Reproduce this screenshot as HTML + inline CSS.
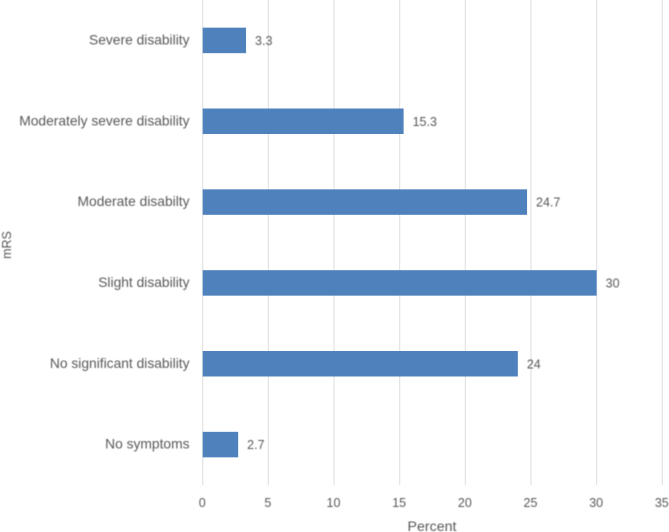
<!DOCTYPE html>
<html lang="en">
<head>
<meta charset="utf-8">
<title>mRS bar chart</title>
<style>
html,body{margin:0;padding:0;background:#fff;width:669px;height:532px;overflow:hidden}
svg{display:block}
text{font-family:"Liberation Sans",sans-serif;font-size:12.5px;fill:#595959}
text.cat{font-size:13.8px}
text.title{font-size:14.2px}
</style>
</head>
<body>
<svg id="chart" width="669" height="532" viewBox="0 0 669 532" xmlns="http://www.w3.org/2000/svg">
  <defs><filter id="soft" x="-5%" y="-20%" width="110%" height="140%"><feGaussianBlur stdDeviation="0.4"/></filter></defs>
  <g id="gridlines"></g>
  <g id="bars"></g>
  <g id="labels" filter="url(#soft)"></g>
  <text class="title" x="432" y="531" text-anchor="middle" filter="url(#soft)">Percent</text>
  <text transform="translate(11,245) rotate(-90)" text-anchor="middle" filter="url(#soft)">mRS</text>
</svg>
<script>
const categories = ["Severe disability", "Moderately severe disability", "Moderate disabilty", "Slight disability", "No significant disability", "No symptoms"];
const seriesValues = [3.3, 15.3, 24.7, 30, 24, 2.7];
const xTicks = [0, 5, 10, 15, 20, 25, 30, 35];

const SVG_NS = "http://www.w3.org/2000/svg";
const xMax = 35;
const xLeft = 202.7, xRight = 662.3, plotTop = 0, plotBottom = 485;
function xScale(v) { return xLeft + (v / xMax) * (xRight - xLeft); }
function bandY(i) { return plotTop + (i + 0.5) * (plotBottom - plotTop) / categories.length; }
function make(tag, attrs, parent, content) {
  const el = document.createElementNS(SVG_NS, tag);
  for (const k in attrs) el.setAttribute(k, attrs[k]);
  if (content !== undefined) el.textContent = content;
  parent.appendChild(el);
  return el;
}
const grid = document.getElementById("gridlines");
const barsG = document.getElementById("bars");
const labels = document.getElementById("labels");

xTicks.forEach(function (t) {
  const line = make("line", {x1: xScale(t), x2: xScale(t), y1: plotTop, y2: plotBottom, stroke: "#e0e0e0", "stroke-width": 1.1}, grid);
  
  
  const tick = make("text", {x: xScale(t) - 0.5, y: 507, "text-anchor": "middle"}, labels, String(t));
  
  
});

categories.forEach(function (c, i) {
  const cy = bandY(i);
  const h = 25.5;
  const bar = make("rect", {x: xScale(0), y: cy - h / 2, width: xScale(seriesValues[i]) - xScale(0), height: h, fill: "#4f81bd"}, barsG);
  
  
  const cat = make("text", {x: 189.5, y: cy + 4, "text-anchor": "end", "class": "cat"}, labels, c);
  
  
  const val = make("text", {x: xScale(seriesValues[i]) + 9, y: cy + 4.5}, labels, String(seriesValues[i]));
  
  
});
</script>
</body>
</html>
